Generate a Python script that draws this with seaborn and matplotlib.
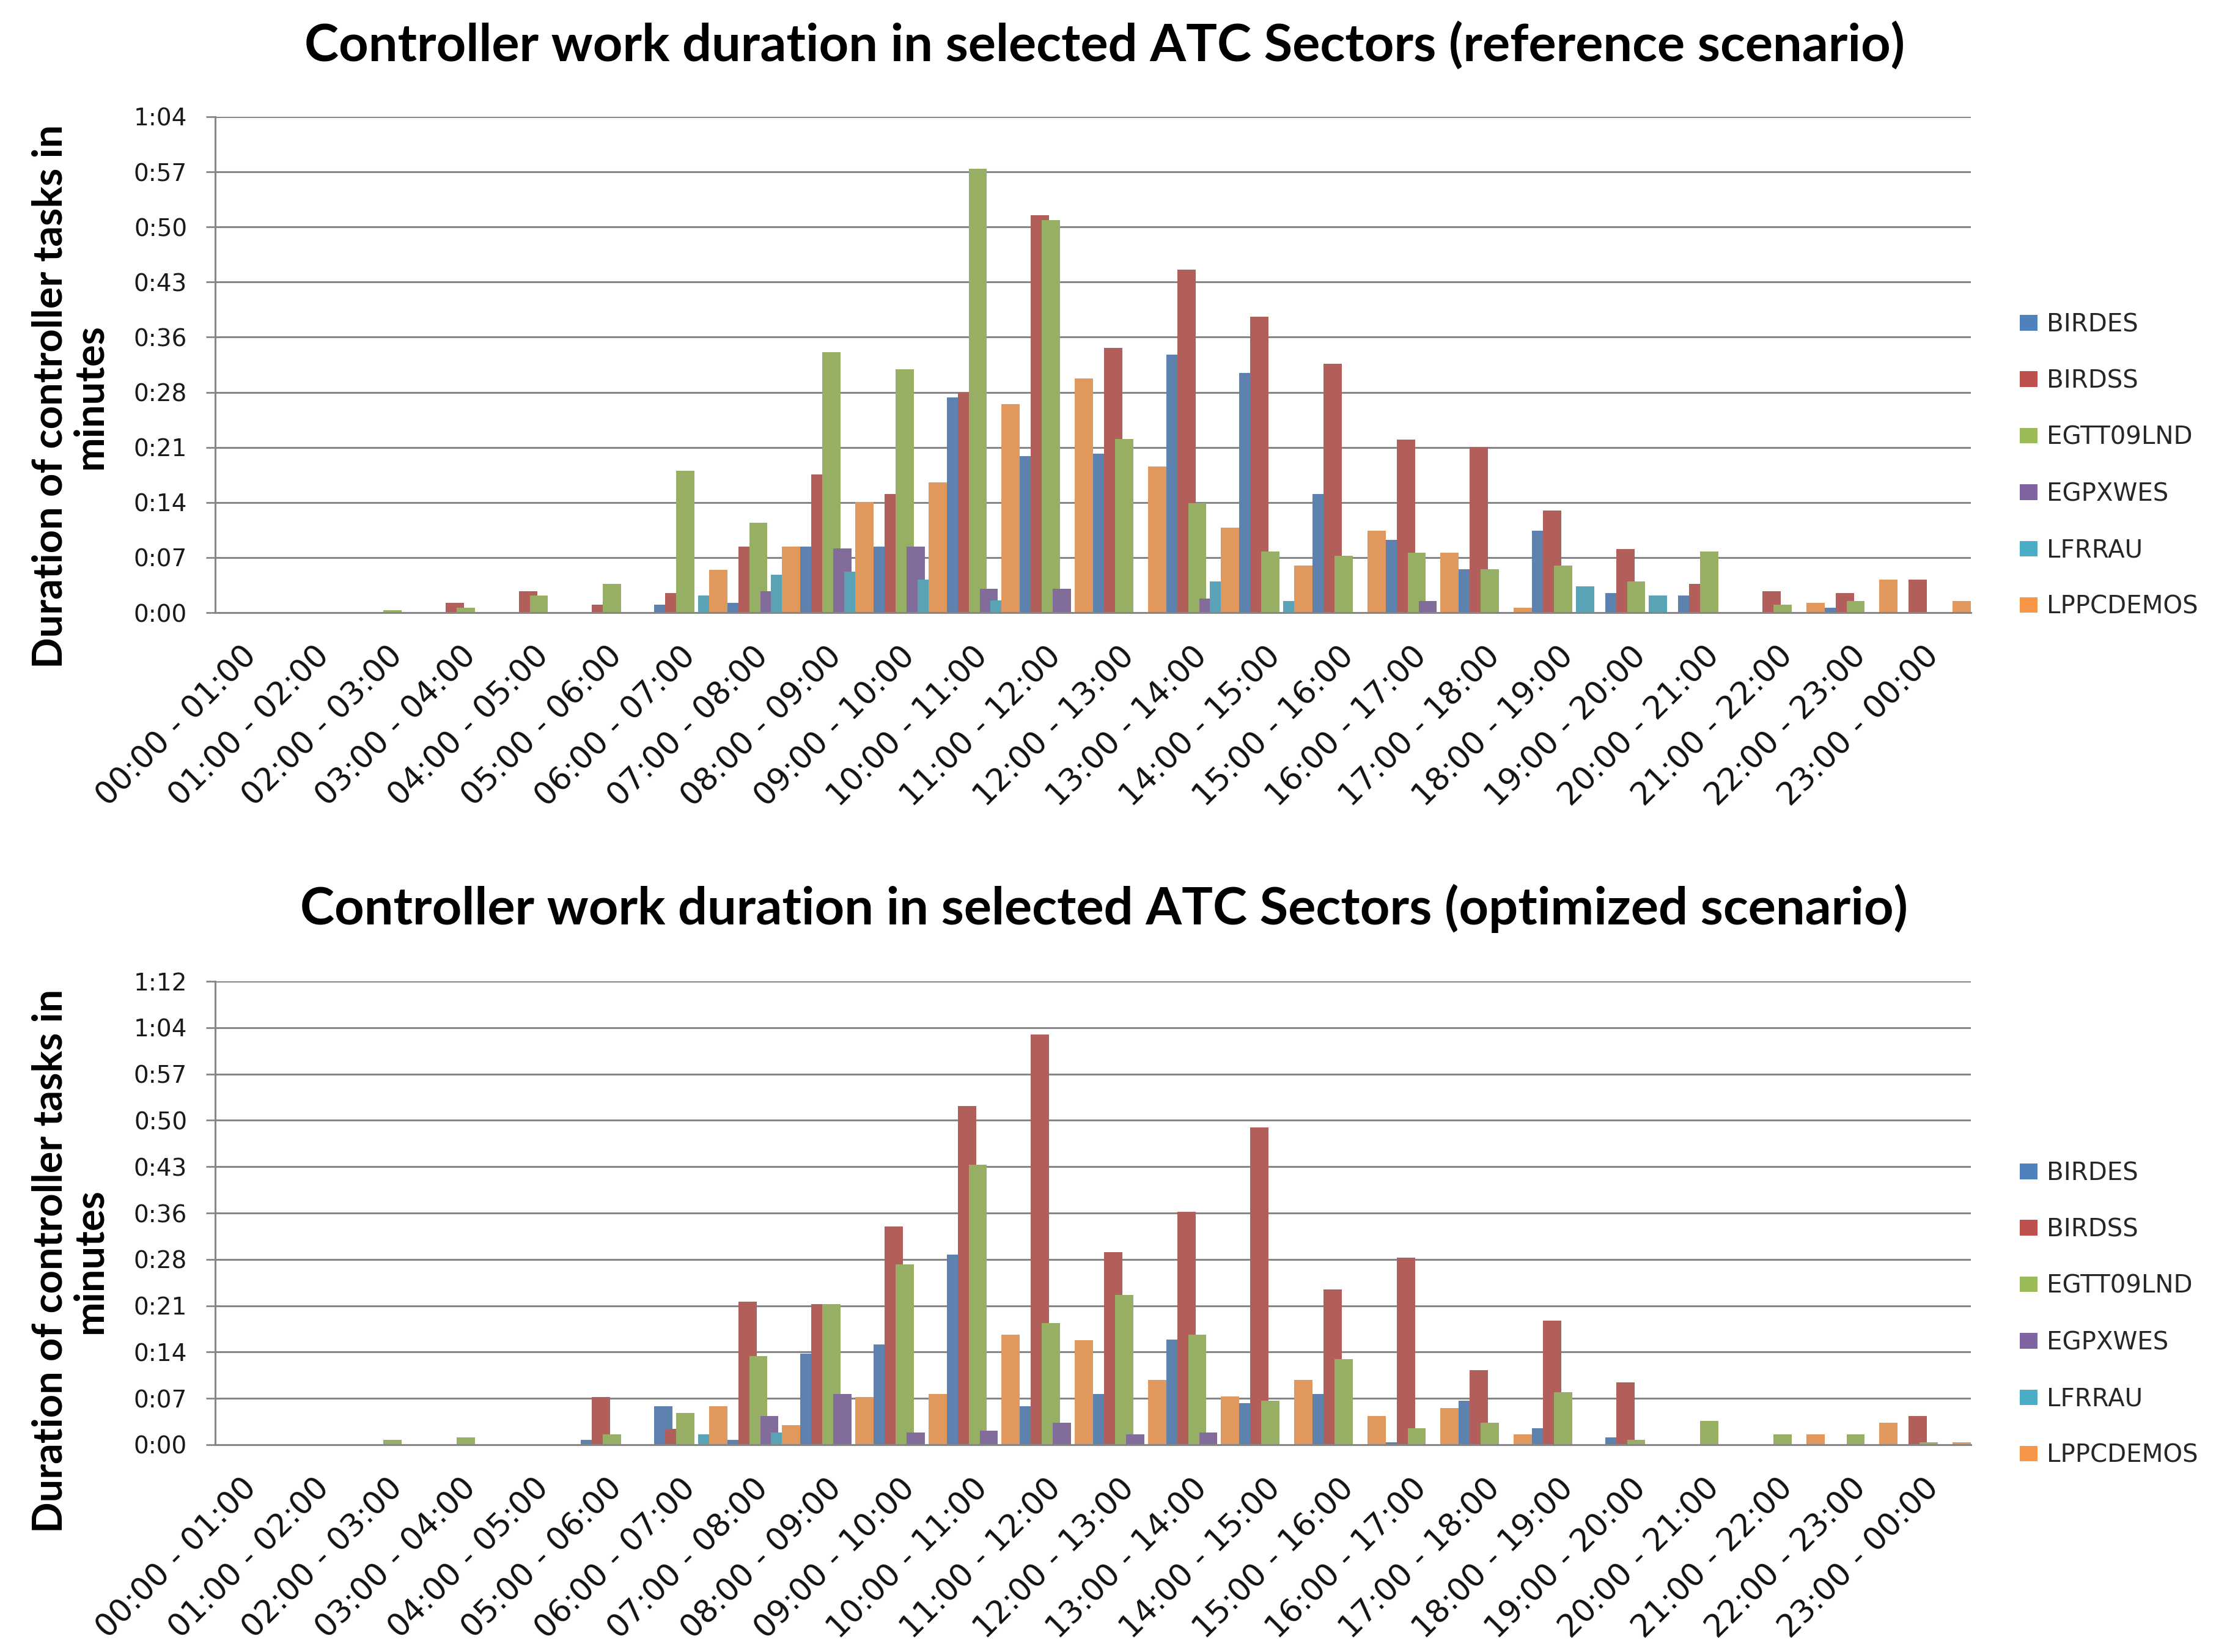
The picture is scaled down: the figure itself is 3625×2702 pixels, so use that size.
import numpy as np
import pandas as pd
import matplotlib
matplotlib.use("Agg")
import matplotlib.pyplot as plt
from matplotlib.patches import Patch
from matplotlib.ticker import FixedLocator
import seaborn as sns

# ---------------- data (minutes) ----------------
hours = ["00:00 - 01:00", "01:00 - 02:00", "02:00 - 03:00", "03:00 - 04:00",
         "04:00 - 05:00", "05:00 - 06:00", "06:00 - 07:00", "07:00 - 08:00",
         "08:00 - 09:00", "09:00 - 10:00", "10:00 - 11:00", "11:00 - 12:00",
         "12:00 - 13:00", "13:00 - 14:00", "14:00 - 15:00", "15:00 - 16:00",
         "16:00 - 17:00", "17:00 - 18:00", "18:00 - 19:00", "19:00 - 20:00",
         "20:00 - 21:00", "21:00 - 22:00", "22:00 - 23:00", "23:00 - 00:00"]
sectors = ["BIRDES", "BIRDSS", "EGTT09LND", "EGPXWES", "LFRRAU", "LPPCDEMOS"]
colors = ["#4F81BD", "#C0504D", "#9BBB59", "#8064A2", "#4BACC6", "#F79646"]

# reference scenario
ref_birdes = [0, 0, 0, 0, 0, 0, 1.0, 1.3, 8.5, 8.5, 27.8, 20.2, 20.5, 33.3, 30.9, 15.3, 9.4, 5.6, 10.6, 2.5, 2.2, 0, 0.6, 0]
ref_birdss = [0, 0, 0, 1.3, 2.8, 1.0, 2.5, 8.5, 17.8, 15.3, 28.4, 51.3, 34.2, 44.3, 38.2, 32.1, 22.3, 21.4, 13.2, 8.2, 3.7, 2.8, 2.5, 4.3]
ref_egtt = [0, 0, 0.3, 0.6, 2.2, 3.7, 18.3, 11.6, 33.6, 31.4, 57.3, 50.7, 22.4, 14.1, 7.9, 7.3, 7.7, 5.6, 6.1, 4.0, 7.9, 1.0, 1.5, 0]
ref_egpx = [0, 0, 0, 0, 0, 0, 0, 2.8, 8.3, 8.5, 3.1, 3.1, 0, 1.8, 0, 0, 1.5, 0, 0, 0, 0, 0, 0, 0]
ref_lfrr = [0, 0, 0, 0, 0, 0, 2.2, 4.9, 5.3, 4.3, 1.6, 0, 0, 4.0, 1.5, 0, 0, 0, 3.4, 2.2, 0, 0, 0, 0]
ref_lppc = [0, 0, 0, 0, 0, 0, 5.5, 8.5, 14.3, 16.8, 26.9, 30.2, 18.9, 11.0, 6.1, 10.6, 7.7, 0.6, 0, 0, 0, 1.3, 4.3, 1.5]

# optimized scenario
opt_birdes = [0, 0, 0, 0, 0, 0.8, 6.0, 0.8, 14.2, 15.6, 29.5, 6.0, 7.9, 16.3, 6.5, 7.9, 0.4, 6.8, 2.6, 1.1, 0, 0, 0, 0]
opt_birdss = [0, 0, 0, 0, 0, 7.4, 2.5, 22.2, 21.8, 33.9, 52.6, 63.7, 29.9, 36.2, 49.3, 24.1, 29.1, 11.6, 19.3, 9.7, 0, 0, 0, 4.5]
opt_egtt = [0, 0, 0.8, 1.1, 0, 1.6, 4.9, 13.8, 21.8, 28.0, 43.5, 18.9, 23.3, 17.1, 6.8, 13.3, 2.6, 3.4, 8.2, 0.8, 3.7, 1.6, 1.6, 0.4]
opt_egpx = [0, 0, 0, 0, 0, 0, 0, 4.5, 7.9, 1.9, 2.2, 3.4, 1.6, 1.9, 0, 0, 0, 0, 0, 0, 0, 0, 0, 0]
opt_lfrr = [0, 0, 0, 0, 0, 0, 1.6, 1.9, 0, 0, 0, 0, 0, 0, 0, 0, 0, 0, 0, 0, 0, 0, 0, 0]
opt_lppc = [0, 0, 0, 0, 0, 0, 6.0, 3.0, 7.4, 7.9, 17.1, 16.2, 10.1, 7.5, 10.1, 4.5, 5.7, 1.6, 0, 0, 0, 1.6, 3.4, 0.4]

ref_ymax = 64
ref_yticklabels = ["0:00", "0:07", "0:14", "0:21", "0:28", "0:36", "0:43", "0:50", "0:57", "1:04"]
opt_ymax = 72
opt_yticklabels = ["0:00", "0:07", "0:14", "0:21", "0:28", "0:36", "0:43", "0:50", "0:57", "1:04", "1:12"]

title_ref = "Controller work duration in selected ATC Sectors (reference scenario)"
title_opt = "Controller work duration in selected ATC Sectors (optimized scenario)"
ylabel = "Duration of controller tasks in\nminutes"

# ---------------- style ----------------
sns.set_style("white")
plt.rcParams["font.family"] = ["Lato", "DejaVu Sans"]

TICKFONT = ["DejaVu Sans"]
GRID = "#868686"
W, H = 3625, 2702
fig = plt.figure(figsize=(W / 100, H / 100), dpi=100)


def make_df(series):
    rows = []
    for name, vals in zip(sectors, series):
        for h, v in zip(hours, vals):
            rows.append({"hour": h, "minutes": v, "sector": name})
    return pd.DataFrame(rows)


def draw(ax, series, ymax, yticklabels):
    df = make_df(series)
    sns.barplot(data=df, x="hour", y="minutes", hue="sector", order=hours,
                hue_order=sectors, palette=colors, errorbar=None,
                linewidth=0, legend=False, ax=ax)
    # Excel-like overlapping bars: width 1/4 category, step 0.15 category
    bw, step = 0.25, 0.15
    for i, cont in enumerate(ax.containers):
        for bar in cont:
            c = bar.get_x() + bar.get_width() / 2
            j = int(round(c))
            bar.set_x(j - 0.5 + i * step)
            bar.set_width(bw)
            bar.set_linewidth(0)
    ax.set_xlim(-0.5, len(hours) - 0.5)
    ax.set_ylim(0, ymax)
    yt = np.linspace(0, ymax, len(yticklabels))
    ax.set_yticks(yt)
    ax.set_yticklabels(yticklabels, fontsize=28, color="#1a1a1a", family=TICKFONT)
    ax.set_xticks(np.arange(len(hours)))
    ax.set_xticklabels(hours, rotation=45, ha="right", va="center",
                       rotation_mode="anchor", fontsize=37, color="#111111",
                       family=TICKFONT)
    ax.xaxis.set_minor_locator(FixedLocator(np.arange(-0.5, len(hours), 1.0)))
    ax.tick_params(axis="x", which="major", length=0, pad=46)
    ax.tick_params(axis="x", which="minor", length=11, width=2, color=GRID, direction="out")
    ax.tick_params(axis="y", which="major", length=11, width=2, color=GRID,
                   direction="out", pad=22, left=True)
    ax.grid(axis="y", color=GRID, linewidth=2.2)
    ax.grid(axis="x", visible=False)
    ax.set_axisbelow(True)
    for s in ["top", "right"]:
        ax.spines[s].set_visible(False)
    for s in ["left", "bottom"]:
        ax.spines[s].set_color(GRID)
        ax.spines[s].set_linewidth(2.2)
    ax.set_xlabel("")
    ax.set_ylabel("")


ax1 = fig.add_axes([352 / W, 1 - 1002 / H, (3224 - 352) / W, (1002 - 191) / H])
ax2 = fig.add_axes([352 / W, 1 - 2363 / H, (3224 - 352) / W, (2363 - 1605) / H])

draw(ax1, [ref_birdes, ref_birdss, ref_egtt, ref_egpx, ref_lfrr, ref_lppc], ref_ymax, ref_yticklabels)
draw(ax2, [opt_birdes, opt_birdss, opt_egtt, opt_egpx, opt_lfrr, opt_lppc], opt_ymax, opt_yticklabels)

fig.text(1807 / W, 1 - 74 / H, title_ref, ha="center", va="center",
         fontsize=61, fontweight="bold", color="black")
fig.text(1806 / W, 1 - 1486 / H, title_opt, ha="center", va="center",
         fontsize=61, fontweight="bold", color="black")

fig.text(115 / W, 1 - 648 / H, ylabel, rotation=90, ha="center", va="center",
         multialignment="center", fontsize=48, fontweight="bold", color="black",
         linespacing=1.05)
fig.text(115 / W, 1 - 2062 / H, ylabel, rotation=90, ha="center", va="center",
         multialignment="center", fontsize=48, fontweight="bold", color="black",
         linespacing=1.05)

handles = [Patch(facecolor=c, edgecolor="none", label=s) for s, c in zip(sectors, colors)]
for ax, yc in [(ax1, 762), (ax2, 2150)]:
    ax.legend(handles=handles, loc="center left",
              bbox_to_anchor=(3304 / W, 1 - yc / H), bbox_transform=fig.transFigure,
              frameon=False, prop={"family": TICKFONT, "size": 29},
              handlelength=0.72, handleheight=0.6,
              handletextpad=0.38, labelspacing=1.3, borderpad=0, borderaxespad=0)

fig.savefig("out.png", dpi=100)
